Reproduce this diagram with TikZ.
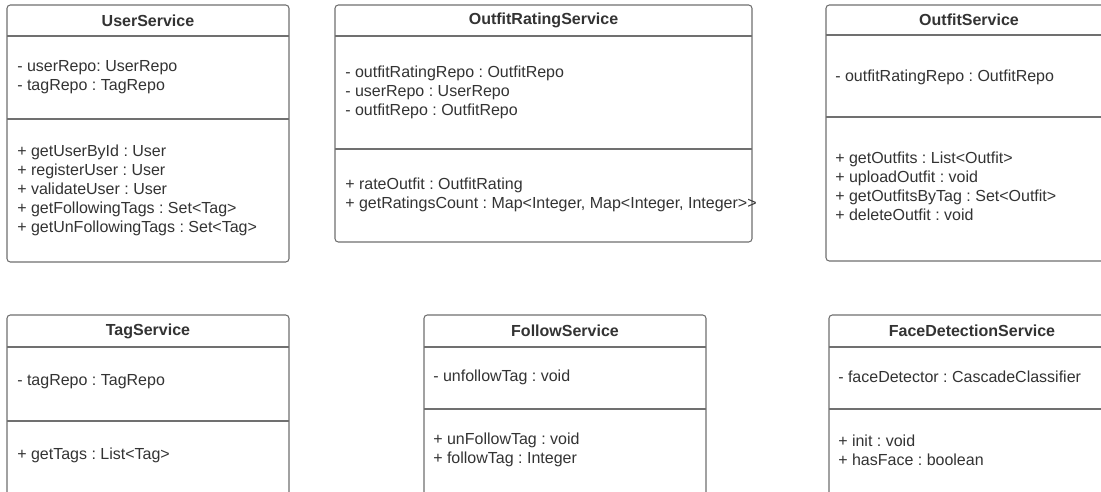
\documentclass[tikz,border=0pt]{standalone}
\usepackage{fontspec}
\setmainfont{Liberation Sans}
\frenchspacing
\definecolor{txtc}{HTML}{333333}
\definecolor{linec}{HTML}{707070}
\begin{document}
\begin{tikzpicture}[x=0.75pt,y=-0.75pt,
  boxline/.style={draw=linec,line width=0.8pt,rounded corners=2.5pt,fill=white},
  divline/.style={draw=linec,line width=0.8pt},
  title/.style={font=\fontsize{12pt}{14pt}\selectfont\bfseries\frenchspacing,text=txtc,inner sep=0pt},
  txt/.style={font=\fontsize{12pt}{14.25pt}\selectfont\frenchspacing,text=txtc,align=left,anchor=west,inner sep=0pt}]
\useasboundingbox (0,0) rectangle (1101,492);
\clip (0,0) rectangle (1101,492);
\fill[white] (0,0) rectangle (1101,492);

% UserService
\draw[boxline] (7,5) rectangle (289,262);
\draw[divline] (7,36) -- (289,36);
\draw[divline] (7,119) -- (289,119);
\node[title] (usT) at (148,20.5) {UserService};
\node[txt] (usA) at (17,77.5) {- userRepo: UserRepo\\- tagRepo : TagRepo};
\node[txt] (usM) at (17,190) {+ getUserById : User\\+ registerUser : User\\+ validateUser : User\\+ getFollowingTags : Set<Tag>\\+ getUnFollowingTags : Set<Tag>};

% OutfitRatingService
\draw[boxline] (335,5) rectangle (752,242);
\draw[divline] (335,36) -- (752,36);
\draw[divline] (335,149) -- (752,149);
\node[title] (orT) at (543.5,20.5) {OutfitRatingService};
\node[txt] (orA) at (345,92) {- outfitRatingRepo : OutfitRepo\\- userRepo : UserRepo\\- outfitRepo : OutfitRepo};
\node[txt] (orM) at (345,195) {+ rateOutfit : OutfitRating\\+ getRatingsCount : Map<Integer, Map<Integer, Integer>{}>};

% OutfitService
\draw[boxline] (826,5) rectangle (1112,261);
\draw[divline] (826,35) -- (1112,35);
\draw[divline] (826,117) -- (1112,117);
\node[title] (osT) at (969,19.5) {OutfitService};
\node[txt] (osA) at (835,77) {- outfitRatingRepo : OutfitRepo};
\node[txt] (osM) at (835,186) {+ getOutfits : List<Outfit>\\+ uploadOutfit : void\\+ getOutfitsByTag : Set<Outfit>\\+ deleteOutfit : void};

% TagService
\draw[boxline] (7,315) rectangle (289,497);
\draw[divline] (7,347) -- (289,347);
\draw[divline] (7,421) -- (289,421);
\node[title] (tsT) at (148,331) {TagService};
\node[txt] (tsA) at (17,382) {- tagRepo : TagRepo};
\node[txt] (tsM) at (17,455) {+ getTags : List<Tag>};

% FollowService
\draw[boxline] (424,315) rectangle (706,497);
\draw[divline] (424,347) -- (706,347);
\draw[divline] (424,409) -- (706,409);
\node[title] (fsT) at (565,331) {FollowService};
\node[txt] (fsA) at (433,377) {- unfollowTag : void};
\node[txt] (fsM) at (433,450) {+ unFollowTag : void\\+ followTag : Integer};

% FaceDetectionService
\draw[boxline] (829,315) rectangle (1115,497);
\draw[divline] (829,347) -- (1115,347);
\draw[divline] (829,409) -- (1115,409);
\node[title] (fdT) at (972,331) {FaceDetectionService};
\node[txt] (fdA) at (838,377) {- faceDetector : CascadeClassifier};
\node[txt] (fdM) at (838,450) {+ init : void\\+ hasFace : boolean};
\end{tikzpicture}
\end{document}
